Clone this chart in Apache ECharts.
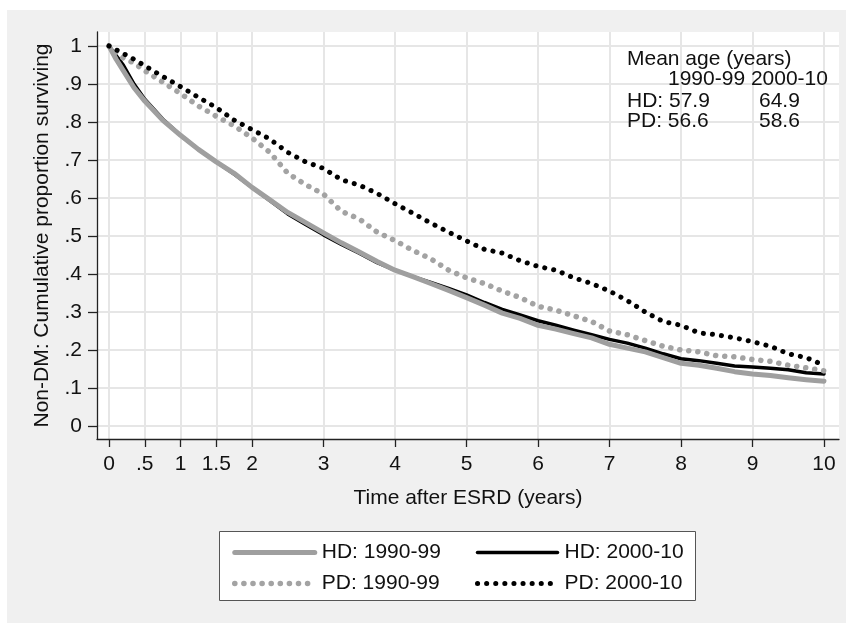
<!DOCTYPE html>
<html>
<head>
<meta charset="utf-8">
<script src="https://cdn.jsdelivr.net/npm/echarts@6/dist/echarts.min.js"></script>
<style>html,body{margin:0;padding:0;background:#fff}#chart{width:846px;height:623px}</style>
</head>
<body>
<div id="chart"></div>
<script>
const times = [0,0.1,0.2,0.35,0.5,0.75,1,1.25,1.5,1.75,2,2.25,2.5,2.75,3,3.25,3.5,3.75,4,4.25,4.5,4.75,5,5.25,5.5,5.75,6,6.25,6.5,6.75,7,7.25,7.5,7.75,8,8.25,8.5,8.75,9,9.25,9.5,9.75,10];
const hd9099 = [1.0,0.965,0.935,0.89,0.855,0.805,0.765,0.728,0.695,0.665,0.628,0.595,0.562,0.535,0.508,0.482,0.458,0.433,0.41,0.393,0.375,0.357,0.338,0.318,0.297,0.283,0.265,0.255,0.243,0.232,0.215,0.205,0.195,0.18,0.165,0.16,0.152,0.143,0.137,0.133,0.127,0.122,0.118];
const hd0010 = [1.0,0.975,0.95,0.9,0.86,0.808,0.765,0.728,0.695,0.663,0.628,0.593,0.558,0.53,0.503,0.478,0.455,0.43,0.41,0.393,0.378,0.362,0.345,0.325,0.307,0.292,0.277,0.265,0.252,0.24,0.228,0.218,0.205,0.19,0.177,0.172,0.165,0.158,0.155,0.152,0.148,0.14,0.137];
const pd9099 = [1.0,0.983,0.968,0.955,0.935,0.905,0.875,0.842,0.815,0.79,0.758,0.72,0.665,0.635,0.61,0.565,0.545,0.51,0.488,0.462,0.44,0.41,0.39,0.375,0.355,0.338,0.315,0.305,0.29,0.275,0.25,0.24,0.225,0.21,0.2,0.195,0.185,0.182,0.175,0.17,0.16,0.153,0.145];
const pd0010 = [1.0,0.99,0.98,0.965,0.948,0.92,0.893,0.865,0.838,0.805,0.78,0.755,0.72,0.695,0.678,0.648,0.634,0.612,0.585,0.56,0.534,0.51,0.487,0.465,0.455,0.435,0.42,0.41,0.39,0.375,0.355,0.33,0.3,0.275,0.265,0.245,0.24,0.232,0.222,0.21,0.19,0.18,0.16];
const xTicks = [0,0.5,1,1.5,2,3,4,5,6,7,8,9,10];
const yTicks = [0,0.1,0.2,0.3,0.4,0.5,0.6,0.7,0.8,0.9,1];
const seriesNames = ['HD: 1990-99','HD: 2000-10','PD: 1990-99','PD: 2000-10'];
const noteTitle = 'Mean age (years)';
const noteHeader = '1990-99 2000-10';
const noteRows = [['HD: 57.9','64.9'],['PD: 56.6','58.6']];

const pair = arr => times.map((t,i)=>[t,arr[i]]);
const FONT = '"Liberation Sans", Arial, sans-serif';
const FS = 21;
const chart = echarts.init(document.getElementById('chart'), null, {renderer:'canvas'});
const fmtX = v => { const s = String(Math.round(v*10)/10); return s.startsWith('0.') ? s.slice(1) : s; };
const fmtY = v => { const r = Math.round(v*10)/10; if (r===0) return '0'; if (r===1) return '1'; return String(r).slice(1); };

const styles = {
  [seriesNames[0]]: {color:'#9f9f9f', width:5, type:'solid', cap:'round', join:'round'},
  [seriesNames[1]]: {color:'#000', width:3.5, type:'solid', cap:'round', join:'round'},
  [seriesNames[2]]: {color:'#a3a3a3', width:5.5, type:[0.1,9], cap:'round', join:'round'},
  [seriesNames[3]]: {color:'#000', width:5, type:[0.1,9], cap:'round', join:'round'}
};
const legendItem = n => ({name:n, lineStyle:styles[n], itemStyle:{opacity:0}});

const textEls = [
  {type:'text', z:100, left:627, top:49, style:{text:noteTitle, font:`${FS}px ${FONT}`, fill:'#111'}},
  {type:'text', z:100, left:668, top:69, style:{text:noteHeader, font:`${FS}px ${FONT}`, fill:'#111'}},
];
noteRows.forEach((r,i)=>{
  textEls.push({type:'text', z:100, left:627, top:91+i*20, style:{text:r[0], font:`${FS}px ${FONT}`, fill:'#111'}});
  textEls.push({type:'text', z:100, left:759, top:91+i*20, style:{text:r[1], font:`${FS}px ${FONT}`, fill:'#111'}});
});

const mkSeries = (n, arr, z) => ({name:n, type:'line', data:pair(arr), symbol:'none', smooth:false, z:z,
  lineStyle:styles[n], itemStyle:{color:styles[n].color}});

const option = {
  backgroundColor:'#ffffff',
  animation:false,
  textStyle:{fontFamily:FONT},
  graphic:[
    {type:'rect', left:7, top:10, z:-10, shape:{width:839, height:613}, style:{fill:'#f0f0f0'}, silent:true},
    {type:'rect', left:219, top:531, z:-5, shape:{width:476, height:69}, style:{fill:'#fff', stroke:'#555', lineWidth:1}, silent:true},
    ...textEls
  ],
  grid:{left:97, right:7, top:32, bottom:184, show:true, backgroundColor:'#fff', borderWidth:0, containLabel:false},
  xAxis:{
    type:'value', min:-0.168, max:10.21,
    name:'Time after ESRD (years)', nameLocation:'middle', nameGap:49,
    nameTextStyle:{fontSize:FS, color:'#111', fontFamily:FONT},
    axisLine:{show:true, onZero:false, lineStyle:{color:'#222', width:1.3}},
    axisTick:{show:true, length:8, customValues:xTicks, lineStyle:{color:'#222', width:1.3}},
    axisLabel:{customValues:xTicks, formatter:fmtX, fontSize:FS, color:'#111', margin:15, fontFamily:FONT},
    splitLine:{show:true, lineStyle:{color:'#e6e6e6', width:2}}
  },
  yAxis:{
    type:'value', min:-0.0342, max:1.0368,
    name:'Non-DM: Cumulative proportion surviving', nameLocation:'middle', nameGap:44, nameRotate:90,
    nameTextStyle:{fontSize:FS, color:'#111', fontFamily:FONT},
    axisLine:{show:true, onZero:false, lineStyle:{color:'#222', width:1.3}},
    axisTick:{show:true, length:9, customValues:yTicks, lineStyle:{color:'#222', width:1.3}},
    axisLabel:{customValues:yTicks, formatter:fmtY, fontSize:FS, color:'#111', margin:15, fontFamily:FONT},
    splitLine:{show:true, lineStyle:{color:'#e6e6e6', width:2}}
  },
  legend:[
    {data:[legendItem(seriesNames[0]), legendItem(seriesNames[2])], orient:'vertical', left:227, top:537, itemWidth:80, itemHeight:20, itemGap:10,
     textStyle:{fontSize:FS, color:'#111', fontFamily:FONT, lineHeight:20, padding:[0,0,0,2]}, selectedMode:false},
    {data:[legendItem(seriesNames[1]), legendItem(seriesNames[3])], orient:'vertical', left:470, top:537, itemWidth:80, itemHeight:20, itemGap:10,
     textStyle:{fontSize:FS, color:'#111', fontFamily:FONT, lineHeight:20, padding:[0,0,0,2]}, selectedMode:false}
  ],
  series:[
    mkSeries(seriesNames[1], hd0010, 2),
    mkSeries(seriesNames[0], hd9099, 3),
    mkSeries(seriesNames[2], pd9099, 4),
    mkSeries(seriesNames[3], pd0010, 5)
  ]
};
chart.setOption(option);
</script>
</body>
</html>
